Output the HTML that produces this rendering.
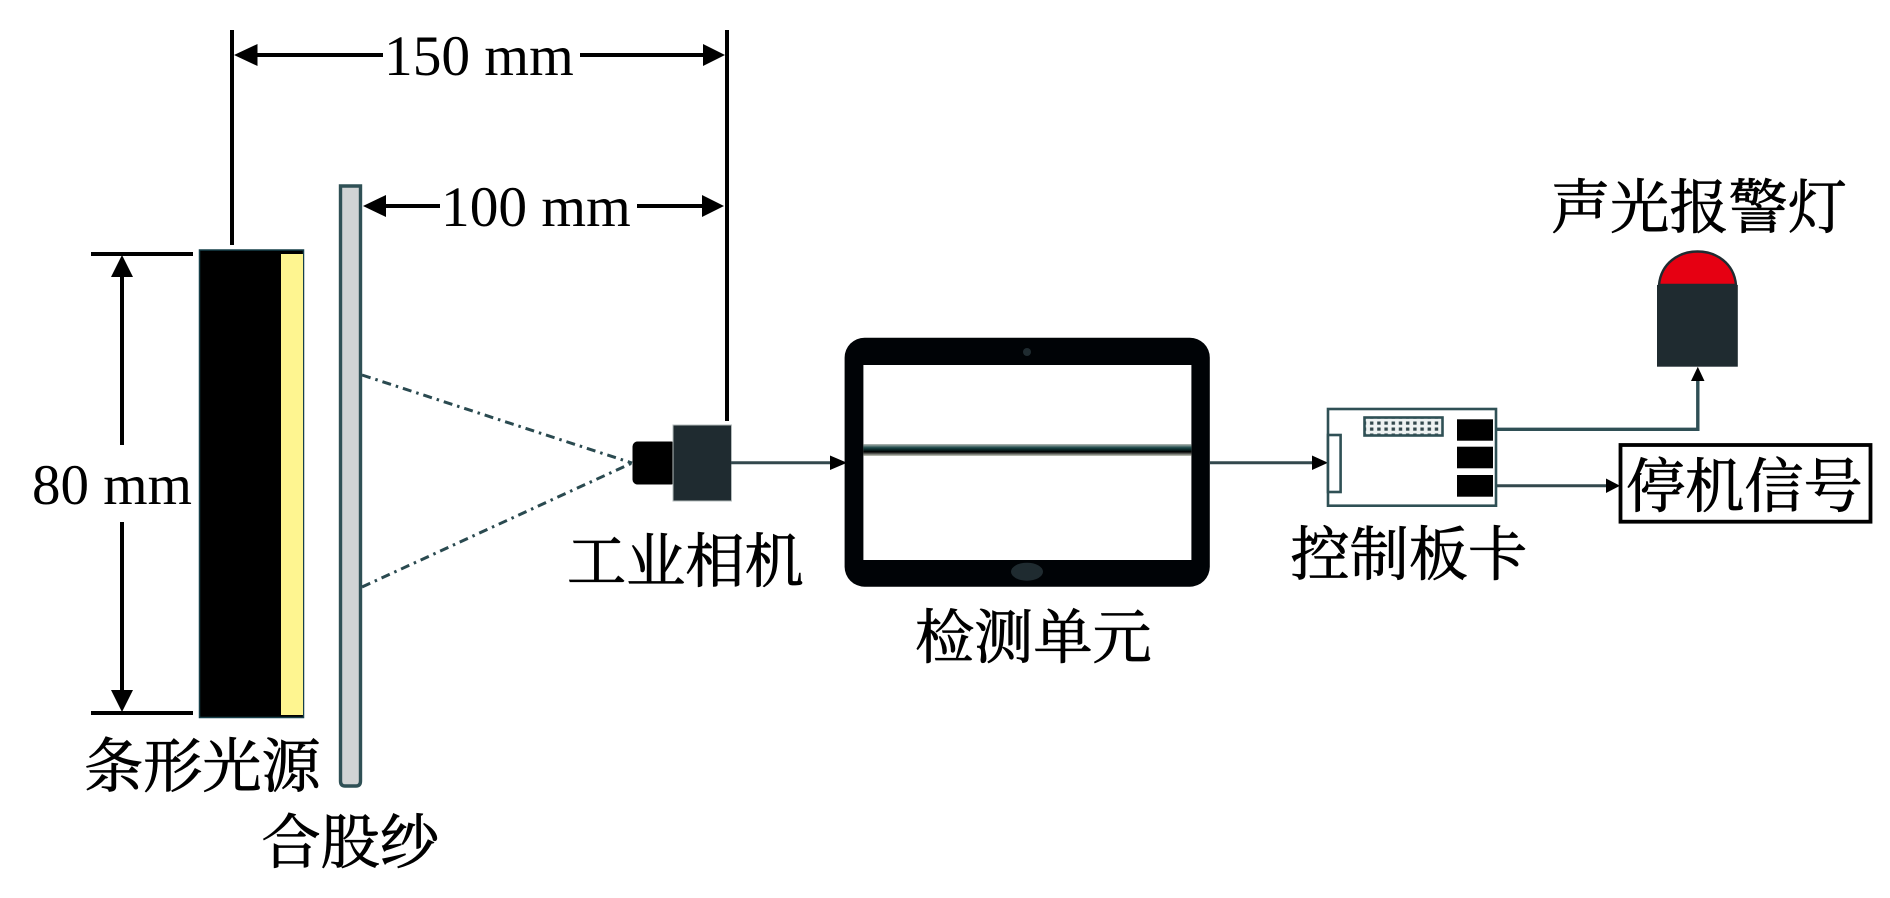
<!DOCTYPE html>
<html><head><meta charset="utf-8"><style>
html,body{margin:0;padding:0;background:#fff;width:1890px;height:898px;overflow:hidden}
svg{display:block}
.t{font-family:"Liberation Serif",serif;font-size:57.4px;fill:#000}
.c{font-family:"Liberation Serif","Noto Serif CJK SC",serif;font-size:59.2px;fill:#000;stroke:#000;stroke-width:.8px}
</style></head><body>
<svg width="1890" height="898" viewBox="0 0 1890 898" xmlns="http://www.w3.org/2000/svg">
<defs>
<linearGradient id="band" x1="0" y1="0" x2="0" y2="1"><stop offset="0" stop-color="#b8bdb8"/><stop offset=".3" stop-color="#1f4a4a"/><stop offset=".45" stop-color="#0a2a2a"/><stop offset=".65" stop-color="#000"/><stop offset="1" stop-color="#c8ccc0"/></linearGradient>
<pattern id="dots" x="1368" y="420" width="7.2" height="6" patternUnits="userSpaceOnUse"><rect width="7.2" height="6" fill="#eef2f2"/><rect x="2" y="1.5" width="3.4" height="3.2" fill="#33484c"/></pattern>
</defs>
<!-- dimension lines -->
<g fill="#000">
<rect x="230" y="30" width="4" height="215"/>
<rect x="725" y="30" width="4" height="391"/>
<rect x="257" y="53" width="126" height="4"/>
<polygon points="234,55 257.5,44 257.5,66"/>
<rect x="580" y="53" width="124" height="4"/>
<polygon points="725,55 703,44 703,66"/>
<rect x="385" y="204" width="55" height="4"/>
<polygon points="363,206 386,195 386,217"/>
<rect x="637" y="204" width="68" height="4"/>
<polygon points="724,206 702,195 702,217"/>
<rect x="91" y="252" width="102" height="4"/>
<rect x="91" y="711" width="102" height="4"/>
<rect x="120" y="277" width="4" height="168"/>
<rect x="120" y="522" width="4" height="168"/>
<polygon points="122,255 111,277 133,277"/>
<polygon points="122,712 111,690 133,690"/>
</g>
<text class="t" x="384" y="75">150 mm</text>
<text class="t" x="441" y="226">100 mm</text>
<text class="t" x="32" y="504" style="font-size:57px">80 mm</text>
<!-- light -->
<rect x="199.5" y="250" width="104" height="467.5" fill="#000" stroke="#17404a" stroke-width="1.5"/>
<rect x="281" y="254" width="22" height="461" fill="#fef590"/>
<!-- yarn -->
<path d="M340.5 186 H360.5 V781 Q360.5 786 356 786 H345 Q340.5 786 340.5 781 Z" fill="#d1d3d4" stroke="#2f5055" stroke-width="3.4"/>
<!-- dashed -->
<g stroke="#2a4a50" stroke-width="3" fill="none" stroke-dasharray="9 5 2.5 5">
<line x1="362" y1="375" x2="632" y2="463"/>
<line x1="362" y1="587" x2="632" y2="463"/>
</g>
<!-- camera -->
<rect x="632.5" y="441.5" width="44" height="43" rx="5" fill="#000"/>
<rect x="673" y="425" width="58.5" height="76" fill="#1f2b30" stroke="#b5bcbc" stroke-width="1"/>
<!-- connectors -->
<g stroke="#33484d" stroke-width="3" fill="none">
<line x1="731" y1="462.7" x2="832" y2="462.7"/>
<line x1="1210" y1="462.7" x2="1315" y2="462.7"/>
<line x1="1493" y1="485.7" x2="1608" y2="485.7"/>
</g>
<path d="M1493 429.3 H1697.8 V380" stroke="#2f4f55" stroke-width="3.4" fill="none"/>
<g fill="#000">
<polygon points="847,462.7 830,455.5 830,470"/>
<polygon points="1328,462.7 1312,455.5 1312,470"/>
<polygon points="1620,485.7 1606,478.5 1606,493"/>
<polygon points="1697.8,366.7 1691,381 1704.5,381"/>
</g>
<!-- tablet -->
<rect x="844.6" y="337.7" width="365.2" height="249" rx="20" fill="#000306"/>
<rect x="863.4" y="365" width="328" height="195" fill="#fff"/>
<rect x="863.4" y="444" width="328" height="12" fill="url(#band)"/>
<circle cx="1027" cy="352" r="4" fill="#1f2b30"/>
<ellipse cx="1027" cy="571.7" rx="16" ry="9" fill="#1f2b30"/>
<!-- board -->
<rect x="1328" y="409" width="168" height="96.7" fill="#fff" stroke="#2f5055" stroke-width="2.6"/>
<rect x="1328" y="435" width="12.6" height="57" fill="#fff" stroke="#2f5055" stroke-width="2.6"/>
<rect x="1364.5" y="417.5" width="78" height="18" fill="url(#dots)" stroke="#2f5055" stroke-width="2.6"/>
<g fill="#000">
<rect x="1457" y="419.3" width="36" height="21.4"/>
<rect x="1457" y="446.7" width="36" height="21.6"/>
<rect x="1457" y="475" width="36" height="21.7"/>
</g>
<!-- stop box -->
<rect x="1620.5" y="445" width="250" height="76.7" fill="#fff" stroke="#000" stroke-width="3.8"/>
<!-- lamp -->
<path d="M1659 285 C1661 263 1679 251.5 1697.5 251.5 C1716 251.5 1734 263 1736 285 Z" fill="#e60012" stroke="#1f2b30" stroke-width="2.4"/>
<rect x="1657" y="285" width="80.8" height="81.7" fill="#1f2b30"/>
<!-- labels -->
<text class="c" x="1551" y="228">声光报警灯</text>
<text class="c" x="1626" y="507">停机信号</text>
<text class="c" x="1290.5" y="575">控制板卡</text>
<text class="c" x="567" y="582">工业相机</text>
<text class="c" x="915" y="658">检测单元</text>
<text class="c" x="84" y="787">条形光源</text>
<text class="c" x="261.5" y="863">合股纱</text>
</svg>
</body></html>
